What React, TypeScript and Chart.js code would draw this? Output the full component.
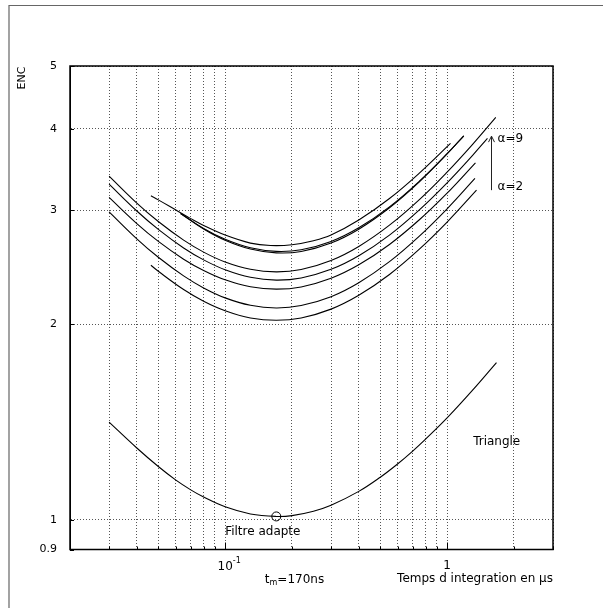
import React, { useEffect, useRef } from "react";
import { Chart, registerables } from "chart.js";

Chart.register(...registerables);

// Integration time (µs) and ENC for each α curve
const tAlpha2 = [0.0463, 0.05, 0.065, 0.08, 0.1, 0.13, 0.17, 0.22, 0.3, 0.4, 0.55, 0.75, 1.0, 1.357];
const encAlpha2 = [2.466, 2.414, 2.263, 2.171, 2.099, 2.046, 2.029, 2.046, 2.111, 2.217, 2.387, 2.611, 2.874, 3.219];

const tAlpha3 = [0.03, 0.04, 0.05, 0.065, 0.08, 0.1, 0.13, 0.17, 0.22, 0.3, 0.4, 0.55, 0.75, 1.0, 1.335];
const encAlpha3 = [2.981, 2.709, 2.537, 2.375, 2.276, 2.197, 2.14, 2.12, 2.138, 2.206, 2.318, 2.498, 2.735, 3.013, 3.356];

const tAlpha4 = [0.03, 0.04, 0.05, 0.065, 0.08, 0.1, 0.13, 0.17, 0.22, 0.3, 0.4, 0.55, 0.75, 1.0, 1.342];
const encAlpha4 = [3.137, 2.859, 2.684, 2.52, 2.421, 2.342, 2.285, 2.266, 2.284, 2.355, 2.47, 2.655, 2.898, 3.185, 3.547];

const tAlpha5 = [0.03, 0.04, 0.05, 0.065, 0.08, 0.1, 0.13, 0.17, 0.22, 0.3, 0.4, 0.55, 0.75, 1.0, 1.3, 1.52];
const encAlpha5 = [3.289, 2.99, 2.801, 2.622, 2.514, 2.427, 2.363, 2.34, 2.358, 2.431, 2.551, 2.745, 3.002, 3.304, 3.639, 3.868];

const tAlpha6 = [0.03, 0.04, 0.05, 0.065, 0.08, 0.1, 0.13, 0.17, 0.22, 0.3, 0.4, 0.55, 0.75, 1.0, 1.3, 1.657];
const encAlpha6 = [3.384, 3.075, 2.88, 2.696, 2.584, 2.495, 2.431, 2.409, 2.429, 2.508, 2.636, 2.843, 3.113, 3.432, 3.784, 4.168];

const tAlpha7 = [0.063, 0.08, 0.1, 0.13, 0.17, 0.22, 0.3, 0.4, 0.55, 0.75, 1.0, 1.189];
const encAlpha7 = [2.964, 2.805, 2.695, 2.612, 2.577, 2.59, 2.669, 2.803, 3.024, 3.316, 3.66, 3.904];

const tAlpha8 = [0.063, 0.08, 0.1, 0.13, 0.17, 0.22, 0.3, 0.4, 0.55, 0.75, 1.0, 1.189];
const encAlpha8 = [2.964, 2.81, 2.704, 2.624, 2.591, 2.606, 2.684, 2.817, 3.034, 3.323, 3.663, 3.904];

const tAlpha9 = [0.0463, 0.05, 0.06, 0.07, 0.08, 0.1, 0.13, 0.16, 0.2, 0.25, 0.3, 0.4, 0.55, 0.75, 1.036];
const encAlpha9 = [3.155, 3.11, 3.0, 2.91, 2.84, 2.745, 2.668, 2.645, 2.652, 2.69, 2.745, 2.895, 3.125, 3.42, 3.8];

// Triangular shaping
const tTriangle = [0.03, 0.04, 0.05, 0.06, 0.07, 0.08, 0.1, 0.13, 0.17, 0.2, 0.25, 0.3, 0.4, 0.5, 0.6, 0.7, 0.8, 1.0, 1.3, 1.669];
const encTriangle = [1.414, 1.29, 1.208, 1.151, 1.112, 1.084, 1.047, 1.021, 1.012, 1.015, 1.031, 1.053, 1.106, 1.163, 1.22, 1.276, 1.331, 1.435, 1.582, 1.746];

// Matched filter optimum
const tMatched = [0.17];
const encMatched = [1.012];

// Axes
const xGridValues = [0.02, 0.03, 0.04, 0.05, 0.06, 0.07, 0.08, 0.09, 0.1, 0.2, 0.3, 0.4, 0.5, 0.6, 0.7, 0.8, 0.9, 1, 2, 3];
const yTickValues = [0.9, 1, 2, 3, 4, 5];

const FONT = "'DejaVu Sans', sans-serif";

const toPoints = (t: number[], enc: number[]) => t.map((v, i) => ({ x: v, y: enc[i] }));

const decorations = {
  id: "decorations",
  afterDraw(chart: any) {
    const { ctx, chartArea: a, scales } = chart;
    const sx = scales.x;
    const sy = scales.y;
    ctx.save();

    // plot frame
    ctx.strokeStyle = "#000";
    ctx.lineWidth = 1.5;
    ctx.strokeRect(a.left, a.top, a.right - a.left, a.bottom - a.top);

    // inner tick marks
    ctx.lineWidth = 1;
    ctx.beginPath();
    for (const v of xGridValues) {
      const px = Math.round(sx.getPixelForValue(v)) + 0.5;
      const len = v === 0.1 || v === 1 ? 7 : 3;
      ctx.moveTo(px, a.bottom);
      ctx.lineTo(px, a.bottom - len);
    }
    for (const v of yTickValues) {
      const py = Math.round(sy.getPixelForValue(v)) + 0.5;
      ctx.moveTo(a.left, py);
      ctx.lineTo(a.left + 4, py);
    }
    ctx.stroke();

    ctx.fillStyle = "#000";
    ctx.textBaseline = "alphabetic";

    // x tick labels
    const p01 = sx.getPixelForValue(0.1);
    const p1 = sx.getPixelForValue(1);
    ctx.font = `12px ${FONT}`;
    ctx.textAlign = "center";
    ctx.fillText("10", p01, a.bottom + 20);
    ctx.fillText("1", p1, a.bottom + 19);
    const w10 = ctx.measureText("10").width;
    ctx.font = `8px ${FONT}`;
    ctx.textAlign = "left";
    ctx.fillText("-1", p01 + w10 / 2, a.bottom + 13);

    // axis captions
    ctx.font = `12px ${FONT}`;
    ctx.textAlign = "right";
    ctx.fillText("Temps d integration en μs", a.right, a.bottom + 32);

    ctx.textAlign = "left";
    let tx = sx.getPixelForValue(0.151);
    ctx.fillText("t", tx, a.bottom + 33);
    tx += ctx.measureText("t").width;
    ctx.font = `8px ${FONT}`;
    ctx.fillText("m", tx, a.bottom + 35);
    tx += ctx.measureText("m").width;
    ctx.font = `12px ${FONT}`;
    ctx.fillText("=170ns", tx, a.bottom + 33);

    // curve labels
    ctx.fillText("Filtre adapte", sx.getPixelForValue(0.1), sy.getPixelForValue(0.949));
    ctx.fillText("Triangle", sx.getPixelForValue(1.31), sy.getPixelForValue(1.302));
    ctx.fillText("α=9", sx.getPixelForValue(1.687), sy.getPixelForValue(3.818));
    ctx.fillText("α=2", sx.getPixelForValue(1.687), sy.getPixelForValue(3.225));

    // arrow from α=2 up to α=9
    const ax = Math.round(sx.getPixelForValue(1.585)) + 0.5;
    const ay0 = sy.getPixelForValue(3.219);
    const ay1 = sy.getPixelForValue(3.899);
    ctx.strokeStyle = "#222";
    ctx.lineWidth = 1;
    ctx.beginPath();
    ctx.moveTo(ax, ay0);
    ctx.lineTo(ax, ay1);
    ctx.moveTo(ax - 3, ay1 + 6);
    ctx.lineTo(ax, ay1);
    ctx.lineTo(ax + 3, ay1 + 6);
    ctx.stroke();

    // y axis title
    ctx.save();
    ctx.font = `11px ${FONT}`;
    ctx.translate(22, a.top + 12);
    ctx.rotate(-Math.PI / 2);
    ctx.textAlign = "center";
    ctx.textBaseline = "middle";
    ctx.fillText("ENC", 0, 0);
    ctx.restore();

    // page frame
    ctx.strokeStyle = "#666";
    ctx.lineWidth = 1.2;
    ctx.beginPath();
    ctx.moveTo(9, chart.height);
    ctx.lineTo(9, 5.5);
    ctx.lineTo(chart.width, 5.5);
    ctx.stroke();

    ctx.restore();
  },
};

export default function App() {
  const ref = useRef<HTMLCanvasElement | null>(null);

  useEffect(() => {
    if (!ref.current) return;
    const curve = (t: number[], enc: number[]) => ({
      data: toPoints(t, enc),
      borderColor: "#000",
      borderWidth: 1.1,
      pointRadius: 0,
      fill: false,
      tension: 0.4,
    });
    const chart = new Chart(ref.current, {
      type: "line",
      data: {
        datasets: [
          curve(tAlpha2, encAlpha2),
          curve(tAlpha3, encAlpha3),
          curve(tAlpha4, encAlpha4),
          curve(tAlpha5, encAlpha5),
          curve(tAlpha6, encAlpha6),
          curve(tAlpha7, encAlpha7),
          curve(tAlpha8, encAlpha8),
          curve(tAlpha9, encAlpha9),
          curve(tTriangle, encTriangle),
          {
            data: toPoints(tMatched, encMatched),
            showLine: false,
            pointRadius: 4.5,
            pointBorderWidth: 1,
            pointBorderColor: "#000",
            pointBackgroundColor: "rgba(0,0,0,0)",
          },
        ],
      },
      options: {
        responsive: false,
        animation: false,
        events: [],
        layout: { padding: { top: 66, right: 50, left: 0, bottom: 0 } },
        plugins: { legend: { display: false }, tooltip: { enabled: false } },
        scales: {
          x: {
            type: "logarithmic",
            min: 0.02,
            max: 3,
            afterBuildTicks: (s: any) => {
              s.ticks = xGridValues.map((v) => ({ value: v }));
            },
            afterFit: (s: any) => {
              s.height = 58.5;
            },
            ticks: { display: false },
            grid: { color: "#555", lineWidth: 1, drawTicks: false },
            border: { display: true, color: "#000", width: 1, dash: [1, 2] },
          },
          y: {
            type: "logarithmic",
            min: 0.9,
            max: 5,
            afterBuildTicks: (s: any) => {
              s.ticks = yTickValues.map((v) => ({ value: v }));
            },
            afterFit: (s: any) => {
              s.width = 70;
            },
            ticks: {
              autoSkip: false,
              padding: 13,
              color: "#000",
              font: { family: FONT, size: 11 },
              callback: (v: any) => String(v),
            },
            grid: { color: "#555", lineWidth: 1, drawTicks: false },
            border: { display: true, color: "#000", width: 1, dash: [1, 2] },
          },
        },
      },
      plugins: [decorations],
    });
    return () => chart.destroy();
  }, []);

  return (
    <div style={{ position: "fixed", left: 0, top: 0, width: 603, height: 608, background: "#fff" }}>
      <canvas ref={ref} width={603} height={608} style={{ display: "block" }} />
    </div>
  );
}
